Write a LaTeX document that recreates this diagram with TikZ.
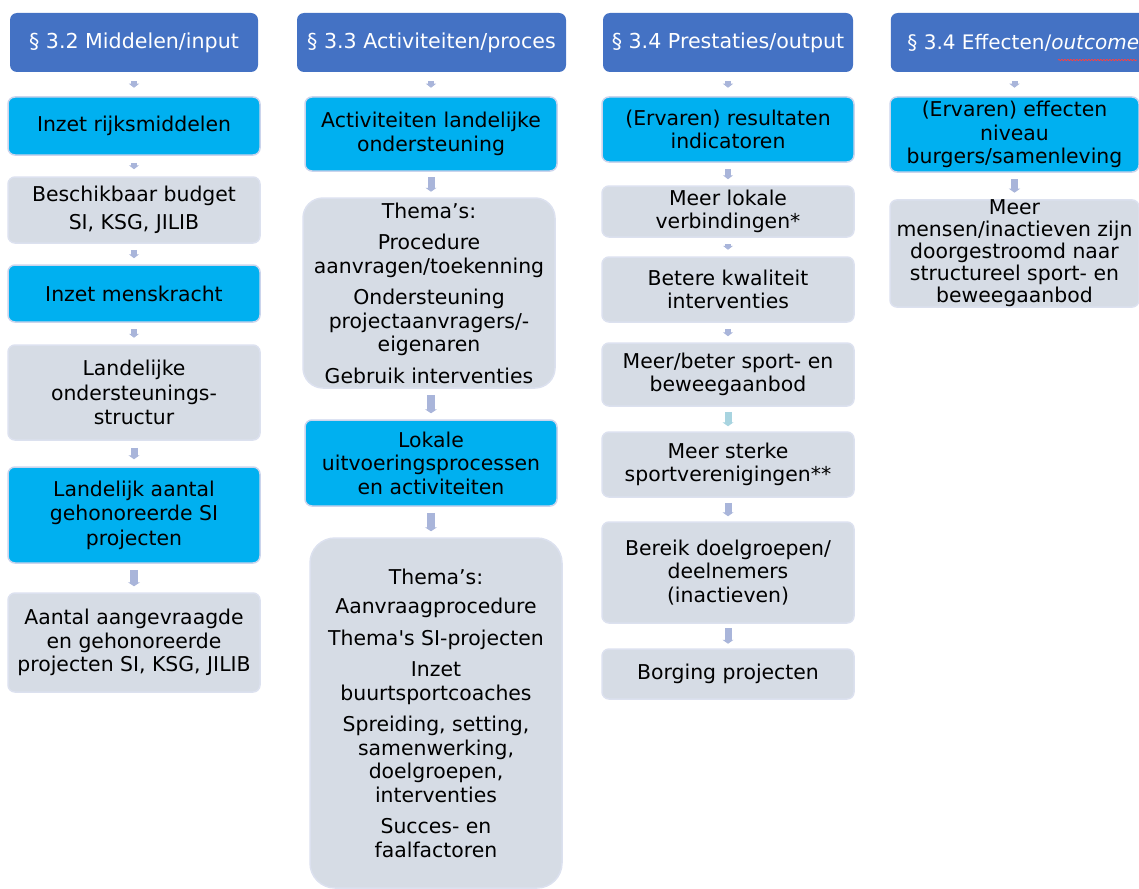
\documentclass[tikz,border=0pt]{standalone}
\usepackage{fontspec}
\setmainfont{DejaVu Sans}
\usetikzlibrary{arrows.meta,decorations.pathmorphing}
\definecolor{hdr}{HTML}{4472C4}
\definecolor{cyanf}{HTML}{00B0F0}
\definecolor{greyf}{HTML}{D6DCE5}
\definecolor{bord}{HTML}{CBD4EC}
\definecolor{gbord}{HTML}{DCE1EF}
\definecolor{arr}{HTML}{A9B5DA}
\definecolor{arrc}{HTML}{A8D4E0}
\begin{document}
\begin{tikzpicture}[x=1pt,y=-1pt,
 box/.style={rounded corners=7pt, minimum width=252pt, align=center, font=\fontsize{20.4}{23.5}\selectfont, inner sep=0pt, line width=1.5pt},
 hdrbox/.style={box, fill=hdr, text=white, draw=none, font=\fontsize{20.6}{24}\selectfont},
 cbox/.style={box, fill=cyanf, draw=bord},
 gbox/.style={box, fill=greyf, draw=gbord},
 conn/.style 2 args={draw=arr, line width=#2, shorten <=#1, shorten >=#1, -{Triangle[width=4pt 1, length=4pt]}}
]
\useasboundingbox (0,0) rectangle (1139,888);
% column 1
\node[hdrbox, minimum width=248pt, minimum height=59pt] (H1) at (134,42.5) {§ 3.2 Middelen/input};
\node[cbox, minimum height=58pt] (A1) at (134,126) {Inzet rijksmiddelen};
\node[gbox, minimum height=66pt] (A2) at (134,210) {Beschikbaar budget\\[5pt]SI, KSG, JILIB};
\node[cbox, minimum height=57pt] (A3) at (134,293.5) {Inzet menskracht};
\node[gbox, minimum height=95pt] (A4) at (134,392.5) {Landelijke\\[1pt]ondersteunings-\\[1pt]structur};
\node[cbox, minimum height=96pt] (A5) at (134,515) {Landelijk aantal\\[1pt]gehonoreerde SI\\[1pt]projecten};
\node[gbox, minimum height=99pt] (A6) at (134,642.5) {Aantal aangevraagde\\en gehonoreerde\\projecten SI, KSG, JILIB};
% column 2
\node[hdrbox, minimum width=269pt, minimum height=59pt] (H2) at (431.5,42.5) {§ 3.3 Activiteiten/proces};
\node[cbox, minimum height=74pt] (B1) at (431,134) {Activiteiten landelijke\\ondersteuning};
\node[gbox, rounded corners=20pt, minimum height=190pt] (B2) at (429,293) {Thema’s:\\[8pt]Procedure\\aanvragen/toekenning\\[8pt]Ondersteuning\\projectaanvragers/-\\eigenaren\\[8pt]Gebruik interventies};
\node[cbox, minimum height=86pt] (B3) at (431,463) {Lokale\\uitvoeringsprocessen\\en activiteiten};
\node[gbox, rounded corners=25pt, minimum height=350pt] (B4) at (436,713) {Thema’s:\\[6pt]Aanvraagprocedure\\[8pt]Thema\textquotesingle s SI-projecten\\[8pt]Inzet\\buurtsportcoaches\\[8pt]Spreiding, setting,\\samenwerking,\\doelgroepen,\\interventies\\[8pt]Succes- en\\faalfactoren};
% column 3
\node[hdrbox, minimum width=250pt, minimum height=59pt] (H3) at (728,42.5) {§ 3.4 Prestaties/output};
\node[cbox, minimum height=65pt] (C1) at (728,129.5) {(Ervaren) resultaten\\indicatoren};
\node[gbox, minimum height=51pt] (C2) at (728,211.5) {Meer lokale\\verbindingen*};
\node[gbox, minimum height=65pt] (C3) at (728,289.5) {Betere kwaliteit\\interventies};
\node[gbox, minimum height=63pt] (C4) at (728,374.5) {Meer/beter sport- en\\beweegaanbod};
\node[gbox, minimum height=65pt] (C5) at (728,464.5) {Meer sterke\\sportverenigingen**};
\node[gbox, minimum height=101pt] (C6) at (728,572.5) {Bereik doelgroepen/\\deelnemers\\(inactieven)};
\node[gbox, minimum height=50pt] (C7) at (728,674) {Borging projecten};
% column 4
\node[hdrbox, minimum width=262pt, minimum height=59pt, anchor=west, font=\fontsize{20}{24}\selectfont] (H4) at (890,42.5) {\hspace*{3pt}§ 3.4 Effecten/\textit{outcome}\hfill};
\node[cbox, minimum width=249pt, minimum height=75pt] (D1) at (1014.5,134.5) {(Ervaren) effecten\\niveau\\burgers/samenleving};
\node[gbox, minimum width=249pt, minimum height=107pt, font=\fontsize{20.4}{22}\selectfont] (D2) at (1014.5,253.5) {Meer\\mensen/inactieven zijn\\doorgestroomd naar\\structureel sport- en\\beweegaanbod};
\draw[red!75!white, line width=0.7pt, decorate, decoration={snake, amplitude=0.7pt, segment length=3pt}] (1058,60) -- (1137,60);
% connectors
\draw[conn={8.5}{6pt}] (H1) -- (A1);
\draw[conn={7}{6pt}] (A1) -- (A2);
\draw[conn={6}{6pt}] (A2) -- (A3);
\draw[conn={6.5}{6pt}] (A3) -- (A4);
\draw[conn={7}{7pt}] (A4) -- (A5);
\draw[conn={6}{8pt}] (A5) -- (A6);
\draw[conn={8.5}{6pt}] (B1.north |- H2.south) -- (B1.north);
\draw[conn={5.5}{7pt}] (B1.south) -- (B1.south |- B2.north);
\draw[conn={6}{8pt}] (B3.north |- B2.south) -- (B3.north);
\draw[conn={6}{8pt}] (B3.south) -- (B3.south |- B4.north);
\draw[conn={8.5}{6pt}] (H3) -- (C1);
\draw[conn={6}{6pt}] (C1) -- (C2);
\draw[conn={6.5}{6pt}] (C2) -- (C3);
\draw[conn={6}{6pt}] (C3) -- (C4);
\draw[conn={5}{7pt}, draw=arrc] (C4) -- (C5);
\draw[conn={5}{7pt}] (C5) -- (C6);
\draw[conn={4.5}{7pt}] (C6) -- (C7);
\draw[conn={8.5}{6pt}] (D1.north |- H4.south) -- (D1.north);
\draw[conn={6.5}{7pt}] (D1) -- (D2);
\end{tikzpicture}
\end{document}
